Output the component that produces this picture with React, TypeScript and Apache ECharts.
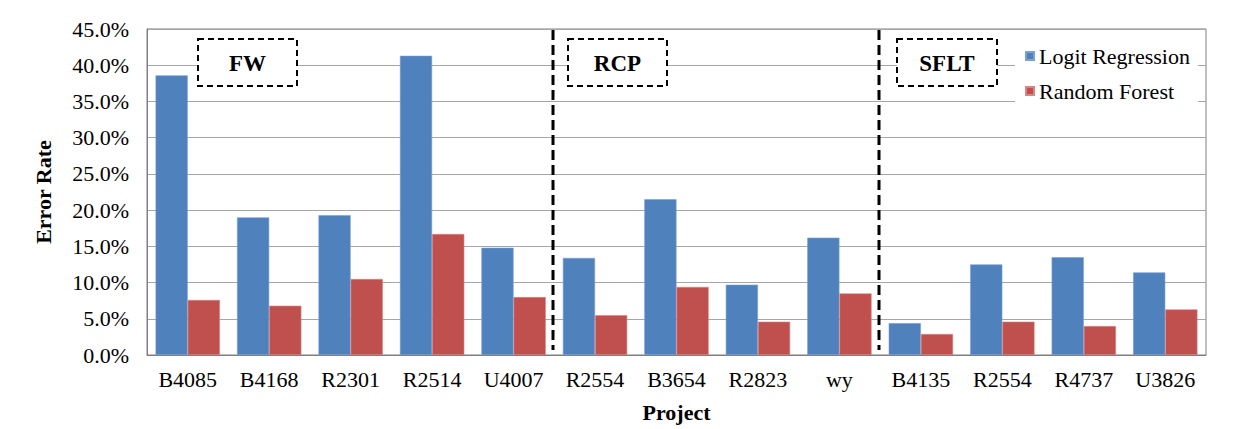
import React, { useEffect, useRef } from "react";
import * as echarts from "echarts";

const categories = ["B4085", "B4168", "R2301", "R2514", "U4007", "R2554", "B3654", "R2823", "wy", "B4135", "R2554", "R4737", "U3826"];
const logitRegression = [38.6, 19.0, 19.3, 41.3, 14.8, 13.4, 21.5, 9.7, 16.2, 4.4, 12.5, 13.5, 11.4];
const randomForest = [7.6, 6.8, 10.5, 16.7, 8.0, 5.5, 9.4, 4.6, 8.5, 2.9, 4.6, 4.0, 6.3];
const seriesNames = ["Logit Regression", "Random Forest"];
const groupLabels = ["FW", "RCP", "SFLT"];
const groupSizes = [5, 4, 4];
const yTicks = { min: 0, max: 45, interval: 5 };

const FONT = "'Liberation Serif', 'Times New Roman', serif";
const BLUE = "#4F81BD";
const RED = "#C0504D";

export default function App() {
  const ref = useRef<HTMLDivElement>(null);

  useEffect(() => {
    if (!ref.current) return;
    const chart = echarts.init(ref.current, null, { renderer: "svg" });
    chart.setOption({
      animation: false,
      backgroundColor: "#ffffff",
      textStyle: { fontFamily: FONT },
      grid: {
        left: 147,
        right: 43,
        top: 29,
        bottom: 74,
        show: true,
        borderColor: "#7f7f7f",
        borderWidth: 1,
        backgroundColor: "transparent",
      },
      legend: {
        orient: "vertical",
        left: 1015,
        top: 35,
        padding: [10, 8, 8, 10],
        backgroundColor: "#ffffff",
        itemWidth: 8,
        itemHeight: 8,
        itemGap: 13,
        icon: "rect",
        textStyle: { fontFamily: FONT, fontSize: 22, color: "#000" },
        data: seriesNames,
      },
      xAxis: {
        type: "category",
        data: categories,
        name: "Project",
        nameLocation: "middle",
        nameGap: 46,
        nameTextStyle: { fontFamily: FONT, fontSize: 22, fontWeight: "bold", color: "#000" },
        axisLine: { show: true, lineStyle: { color: "#7f7f7f", width: 1 } },
        axisTick: { show: false },
        axisLabel: {
          interval: 0,
          hideOverlap: false,
          fontFamily: FONT,
          fontSize: 22,
          color: "#000",
          margin: 13,
        },
        splitLine: { show: false },
      },
      yAxis: {
        type: "value",
        min: yTicks.min,
        max: yTicks.max,
        interval: yTicks.interval,
        name: "Error Rate",
        nameLocation: "middle",
        nameGap: 93,
        nameTextStyle: { fontFamily: FONT, fontSize: 22, fontWeight: "bold", color: "#000" },
        axisLine: { show: true, lineStyle: { color: "#7f7f7f", width: 1 } },
        axisTick: { show: false },
        axisLabel: {
          fontFamily: FONT,
          fontSize: 22,
          color: "#000",
          margin: 18,
          formatter: (v: number) => v.toFixed(1) + "%",
        },
        splitLine: { show: true, lineStyle: { color: "#a6a6a6", width: 1 } },
      },
      series: [
        {
          name: seriesNames[0],
          type: "bar",
          data: logitRegression,
          barGap: "0%",
          barCategoryGap: "21%",
          itemStyle: { color: BLUE, borderColor: "#7aa0d4", borderWidth: 0.6 },
        },
        {
          name: seriesNames[1],
          type: "bar",
          data: randomForest,
          itemStyle: { color: RED, borderColor: "#d98583", borderWidth: 0.6 },
        },
      ],
    });

    const graphics: any[] = [];
    const top = chart.convertToPixel({ yAxisIndex: 0 }, yTicks.max) as number;
    let idx = 0;
    for (let g = 0; g < groupSizes.length - 1; g++) {
      idx += groupSizes[g];
      const a = chart.convertToPixel({ xAxisIndex: 0 }, idx - 1) as number;
      const b = chart.convertToPixel({ xAxisIndex: 0 }, idx) as number;
      const x = Math.round((a + b) / 2) - 1;
      graphics.push({
        type: "line",
        z: 100,
        shape: { x1: x, y1: top + 1, x2: x, y2: 350 },
        style: { stroke: "#000", lineWidth: 3, lineDash: [10, 5] },
      });
    }
    const boxes = [
      { x: 198, w: 99 },
      { x: 568, w: 99 },
      { x: 897, w: 100 },
    ];
    boxes.forEach((bx, i) => {
      graphics.push({
        type: "rect",
        z: 100,
        shape: { x: bx.x, y: 39, width: bx.w, height: 47 },
        style: { fill: "#ffffff", stroke: "#000", lineWidth: 2, lineDash: [6, 4] },
      });
      graphics.push({
        type: "text",
        z: 101,
        x: bx.x + bx.w / 2,
        y: 63,
        style: {
          text: groupLabels[i],
          fontFamily: FONT,
          fontSize: 23,
          fontWeight: "bold",
          fill: "#000",
          align: "center",
          verticalAlign: "middle",
        },
      });
    });
    chart.setOption({ graphic: graphics });

    return () => chart.dispose();
  }, []);

  return (
    <div
      ref={ref}
      style={{ position: "fixed", left: 0, top: 0, width: 1249, height: 429 }}
    />
  );
}
